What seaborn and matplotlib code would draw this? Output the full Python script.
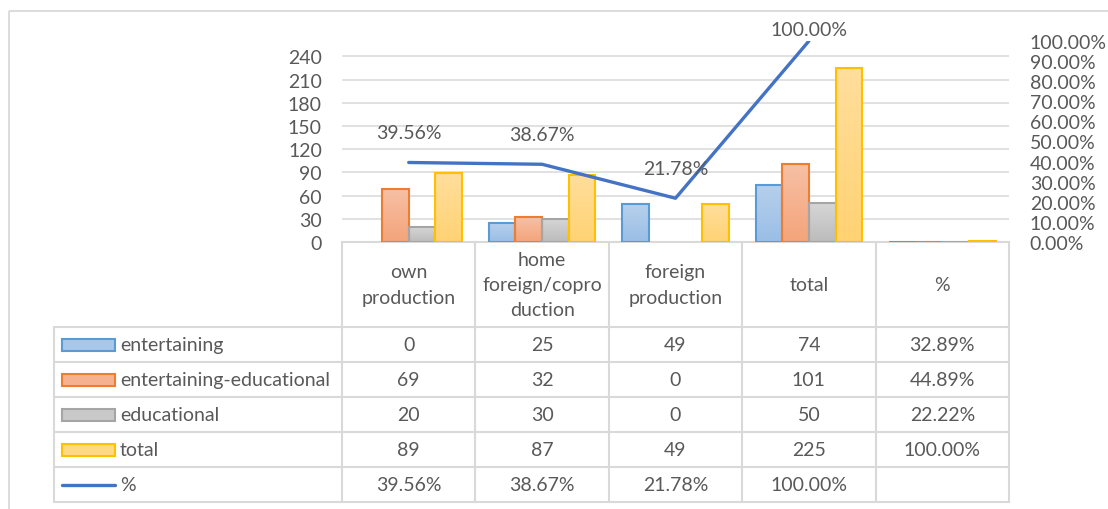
import numpy as np
import pandas as pd
import matplotlib
matplotlib.use("Agg")
import matplotlib.pyplot as plt
import matplotlib.ticker as mticker
from matplotlib.colors import to_rgb
from matplotlib.patches import Rectangle
from matplotlib.lines import Line2D
import seaborn as sns

# ---- data ----------------------------------------------------------------
header_labels = ["own\nproduction", "home\nforeign/copro\nduction",
                 "foreign\nproduction", "total", "%"]
series_names = ["entertaining", "entertaining-educational", "educational", "total"]
entertaining = [0, 25, 49, 74, 0.3289]
entertaining_educational = [69, 32, 0, 101, 0.4489]
educational = [20, 30, 0, 50, 0.2222]
total = [89, 87, 49, 225, 1.0]
share_name = "%"
share = [0.3956, 0.3867, 0.2178, 1.0]
left_ticks = [0, 30, 60, 90, 120, 150, 180, 210, 240]
right_ticks = [0.0, 0.1, 0.2, 0.3, 0.4, 0.5, 0.6, 0.7, 0.8, 0.9, 1.0]

series_values = [entertaining, entertaining_educational, educational, total]

# ---- styling -------------------------------------------------------------
edge_colors = ["#5B9BD5", "#ED7D31", "#A5A5A5", "#FFC000"]
top_colors = ["#B7D0EC", "#F7C0A5", "#D6D6D6", "#FFDE9C"]
bottom_colors = ["#9ABEE6", "#F4A47A", "#BCBCBC", "#FFD273"]
line_color = "#4472C4"
text_color = "#595959"
grid_color = "#D9D9D9"
fs = 14

sns.set_style("white")
plt.rcParams["font.family"] = ["Lato", "DejaVu Sans"]
plt.rcParams["text.color"] = text_color

W, H = 1108, 510
fig = plt.figure(figsize=(W / 100, H / 100), dpi=100)
fig.patch.set_facecolor("white")

# plot area in pixel coordinates (measured from the top)
pa_left, pa_right, pa_top, pa_bottom = 342, 1009, 42, 243
ax = fig.add_axes([pa_left / W, (H - pa_bottom) / H,
                   (pa_right - pa_left) / W, (pa_bottom - pa_top) / H])

df = pd.DataFrame([
    {"category": cat, "series": name, "value": vals[k]}
    for name, vals in zip(series_names, series_values)
    for k, cat in enumerate(header_labels)
])

sns.barplot(data=df, x="category", y="value", hue="series",
            order=header_labels, hue_order=series_names,
            palette=edge_colors, width=0.8, gap=0, errorbar=None,
            legend=False, ax=ax)

# gradient fill for every column, lighter at the top
t = np.linspace(0, 1, 64)[:, None, None]
for i, cont in enumerate(ax.containers):
    c_bot = np.array(to_rgb(bottom_colors[i]))
    c_top = np.array(to_rgb(top_colors[i]))
    grad = c_bot * (1 - t) + c_top * t
    for bar in cont.patches:
        h = bar.get_height()
        if h == 0:
            bar.set_visible(False)
            continue
        x0 = bar.get_x()
        w = bar.get_width()
        ax.imshow(grad, extent=(x0, x0 + w, 0, h), origin="lower",
                  aspect="auto", interpolation="bilinear", zorder=2)
        bar.set_facecolor("none")
        bar.set_edgecolor(edge_colors[i])
        bar.set_linewidth(1.5)
        bar.set_zorder(3)

ax.set_xlim(-0.5, len(header_labels) - 0.5)
ax.set_ylim(0, 260)
ax.set_xticks([])
ax.set_yticks(left_ticks)
ax.set_xlabel("")
ax.set_ylabel("")
ax.yaxis.grid(True, color=grid_color, linewidth=1.1)
ax.set_axisbelow(True)
ax.tick_params(axis="y", length=0, pad=14.5, labelsize=fs, labelcolor=text_color)
for side in ["left", "right", "top"]:
    ax.spines[side].set_visible(False)
ax.spines["bottom"].set_color(grid_color)
ax.spines["bottom"].set_linewidth(1.5)
ax.patch.set_alpha(0)

# share line on the secondary axis
ax2 = ax.twinx()
sns.lineplot(x=list(range(len(share))), y=share, ax=ax2, color=line_color,
             linewidth=2.4, solid_capstyle="round", solid_joinstyle="round")
ax2.set_ylim(0, 1)
ax2.set_yticks(right_ticks)
ax2.yaxis.set_major_formatter(mticker.PercentFormatter(xmax=1, decimals=2))
ax2.tick_params(axis="y", length=0, pad=15, labelsize=fs, labelcolor=text_color)
ax2.set_ylabel("")
ax2.set_xlabel("")
for side in ["left", "right", "top", "bottom"]:
    ax2.spines[side].set_visible(False)
ax2.set_xlim(-0.5, len(header_labels) - 0.5)

# data labels above the line points, kept inside the chart area
for i, v in enumerate(share):
    px, py = ax2.transData.transform((i, v))
    ly = min(py + 30, H - 31)
    ax2.annotate(f"{v:.2%}", xy=(i, v), xytext=(px, ly),
                 textcoords="figure pixels", ha="center", va="center",
                 fontsize=fs, color=text_color)

# ---- data table under the plot -------------------------------------------
tab = fig.add_axes([0, 0, 1, 1], zorder=5)
tab.set_xlim(0, W)
tab.set_ylim(H, 0)
tab.axis("off")
tab.patch.set_alpha(0)

# chart-area frame (runs off the right and bottom edges)
tab.add_patch(Rectangle((9, 12), W + 20, H + 20, facecolor="none",
                        edgecolor=grid_color, lw=1.3))

col_x = [ax.transData.transform((k - 0.5, 0))[0] for k in range(len(header_labels) + 1)]
y_axis = H - ax.transData.transform((0, 0))[1]
header_bottom = 328
row_h = 35
n_rows = len(series_names) + 1
row_y = [header_bottom + r * row_h for r in range(n_rows + 1)]
table_left = 54
lw_tab = 1.5

for x in col_x:
    tab.add_line(Line2D([x, x], [y_axis, row_y[-1]], color=grid_color, lw=lw_tab))
tab.add_line(Line2D([table_left, table_left], [row_y[0], row_y[-1]],
                    color=grid_color, lw=lw_tab))
for y in row_y:
    tab.add_line(Line2D([table_left, col_x[-1]], [y, y], color=grid_color, lw=lw_tab))

# column headers
for k, lab in enumerate(header_labels):
    cx = (col_x[k] + col_x[k + 1]) / 2
    tab.text(cx, (y_axis + header_bottom) / 2, lab, ha="center", va="center",
             fontsize=fs, color=text_color, linespacing=1.6)

key_x0, key_w, key_h = 62, 53, 12
text_x = 120
row_names = series_names + [share_name]
row_vals = series_values + [share]
for r, (name, vals) in enumerate(zip(row_names, row_vals)):
    cy = (row_y[r] + row_y[r + 1]) / 2
    if r < len(series_names):
        c_mid = (np.array(to_rgb(top_colors[r])) + np.array(to_rgb(bottom_colors[r]))) / 2
        tab.add_patch(Rectangle((key_x0, cy - key_h / 2), key_w, key_h,
                                facecolor=c_mid, edgecolor=edge_colors[r], lw=1.5))
    else:
        tab.add_line(Line2D([key_x0, key_x0 + key_w], [cy, cy], color=line_color,
                            lw=2.4, solid_capstyle="round"))
    tab.text(text_x, cy, name, ha="left", va="center", fontsize=fs, color=text_color)
    for k, lab in enumerate(header_labels):
        if k >= len(vals):
            continue
        v = vals[k]
        if r == len(series_names) or lab == "%":
            s = f"{v:.2%}"
        else:
            s = f"{v:g}"
        cx = (col_x[k] + col_x[k + 1]) / 2
        tab.text(cx, cy, s, ha="center", va="center", fontsize=fs, color=text_color)

fig.savefig("out.png", dpi=100, facecolor="white")
